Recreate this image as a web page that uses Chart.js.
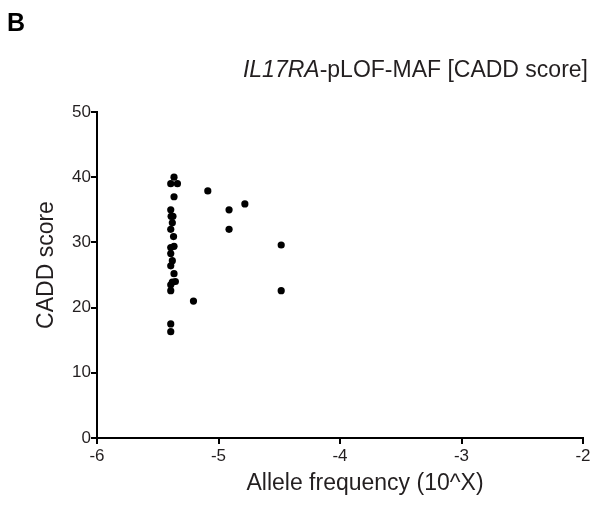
<!DOCTYPE html>
<html lang="en">
<head>
<meta charset="UTF-8">
<script src="https://cdn.jsdelivr.net/npm/chart.js"></script>
<title>IL17RA-pLOF-MAF</title>
<style>
  html, body { margin: 0; padding: 0; background: #fff; }
  #wrap { width: 608px; height: 506px; }
</style>
</head>
<body>
<div id="wrap"><canvas id="chart" width="608" height="506"></canvas></div>
<script>
// allele frequency (log10) and CADD score per variant
const freqLog = [-5.366, -5.393, -5.338, -5.366, -5.393, -5.390, -5.375, -5.380, -5.393, -5.370,
                 -5.366, -5.393, -5.393, -5.380, -5.393, -5.366, -5.355, -5.380, -5.393, -5.393,
                 -5.206, -5.393, -5.393, -5.088, -4.913, -4.913, -4.783, -4.484, -4.484];
const caddScore = [40.0, 39.0, 39.0, 37.0, 35.0, 34.0, 34.0, 33.0, 32.0, 30.9,
                   29.4, 29.2, 28.3, 27.2, 26.4, 25.2, 24.0, 23.9, 23.5, 22.6,
                   21.0, 17.5, 16.3, 37.9, 35.0, 32.0, 35.9, 29.6, 22.6];
const xTicks = [-6, -5, -4, -3, -2];
const yTicks = [0, 10, 20, 30, 40, 50];

const FONT = '"Liberation Sans", Arial, sans-serif';
const TEXT = '#231f20';

// labels drawn by hand: panel letter, mixed italic title, axis titles
const textPlugin = {
  id: 'texts',
  afterDraw(chart) {
    const ctx = chart.ctx;
    const area = chart.chartArea;
    ctx.save();
    ctx.fillStyle = '#000';
    ctx.textBaseline = 'alphabetic';
    ctx.font = 'bold 25px ' + FONT;
    ctx.fillText('B', 7, 31);

    ctx.fillStyle = TEXT;
    const part1 = 'IL17RA';
    const part2 = '-pLOF-MAF [CADD score]';
    ctx.font = 'italic 23px ' + FONT;
    const w1 = ctx.measureText(part1).width;
    ctx.font = '23px ' + FONT;
    const w2 = ctx.measureText(part2).width;
    let x0 = 588 - w1 - w2;
    ctx.font = 'italic 23px ' + FONT;
    ctx.fillText(part1, x0, 77);
    ctx.font = '23px ' + FONT;
    ctx.fillText(part2, x0 + w1, 77);

    ctx.textAlign = 'center';
    ctx.fillText('Allele frequency (10^X)', 365, 490);

    ctx.translate(53, (area.top + area.bottom) / 2 - 10);
    ctx.rotate(-Math.PI / 2);
    ctx.fillText('CADD score', 0, 0);
    ctx.restore();
  }
};

const points = freqLog.map((v, i) => ({ x: v, y: caddScore[i] }));

new Chart(document.getElementById('chart'), {
  type: 'scatter',
  data: {
    datasets: [{
      data: points,
      backgroundColor: '#000',
      borderColor: '#000',
      pointRadius: 3.6,
      pointHoverRadius: 3.6,
      borderWidth: 0
    }]
  },
  options: {
    responsive: false,
    animation: false,
    events: [],
    layout: { padding: { left: 0, right: 25, top: 112, bottom: 0 } },
    plugins: {
      legend: { display: false },
      tooltip: { enabled: false }
    },
    scales: {
      x: {
        type: 'linear',
        min: -6,
        max: -2,
        afterBuildTicks: s => { s.ticks = xTicks.map(v => ({ value: v })); },
        afterFit: s => { s.height = 68; },
        border: { display: true, color: '#000', width: 2 },
        grid: { drawOnChartArea: false, drawTicks: true, tickLength: 6, color: '#000', lineWidth: 2 },
        ticks: { color: TEXT, font: { family: FONT, size: 17 }, padding: 2 }
      },
      y: {
        type: 'linear',
        min: 0,
        max: 50,
        afterBuildTicks: s => { s.ticks = yTicks.map(v => ({ value: v })); },
        afterFit: s => { s.width = 97; },
        border: { display: true, color: '#000', width: 2 },
        grid: { drawOnChartArea: false, drawTicks: true, tickLength: 6, color: '#000', lineWidth: 2 },
        ticks: { color: TEXT, font: { family: FONT, size: 17 }, padding: 0 }
      }
    }
  },
  plugins: [textPlugin]
});
</script>
</body>
</html>
